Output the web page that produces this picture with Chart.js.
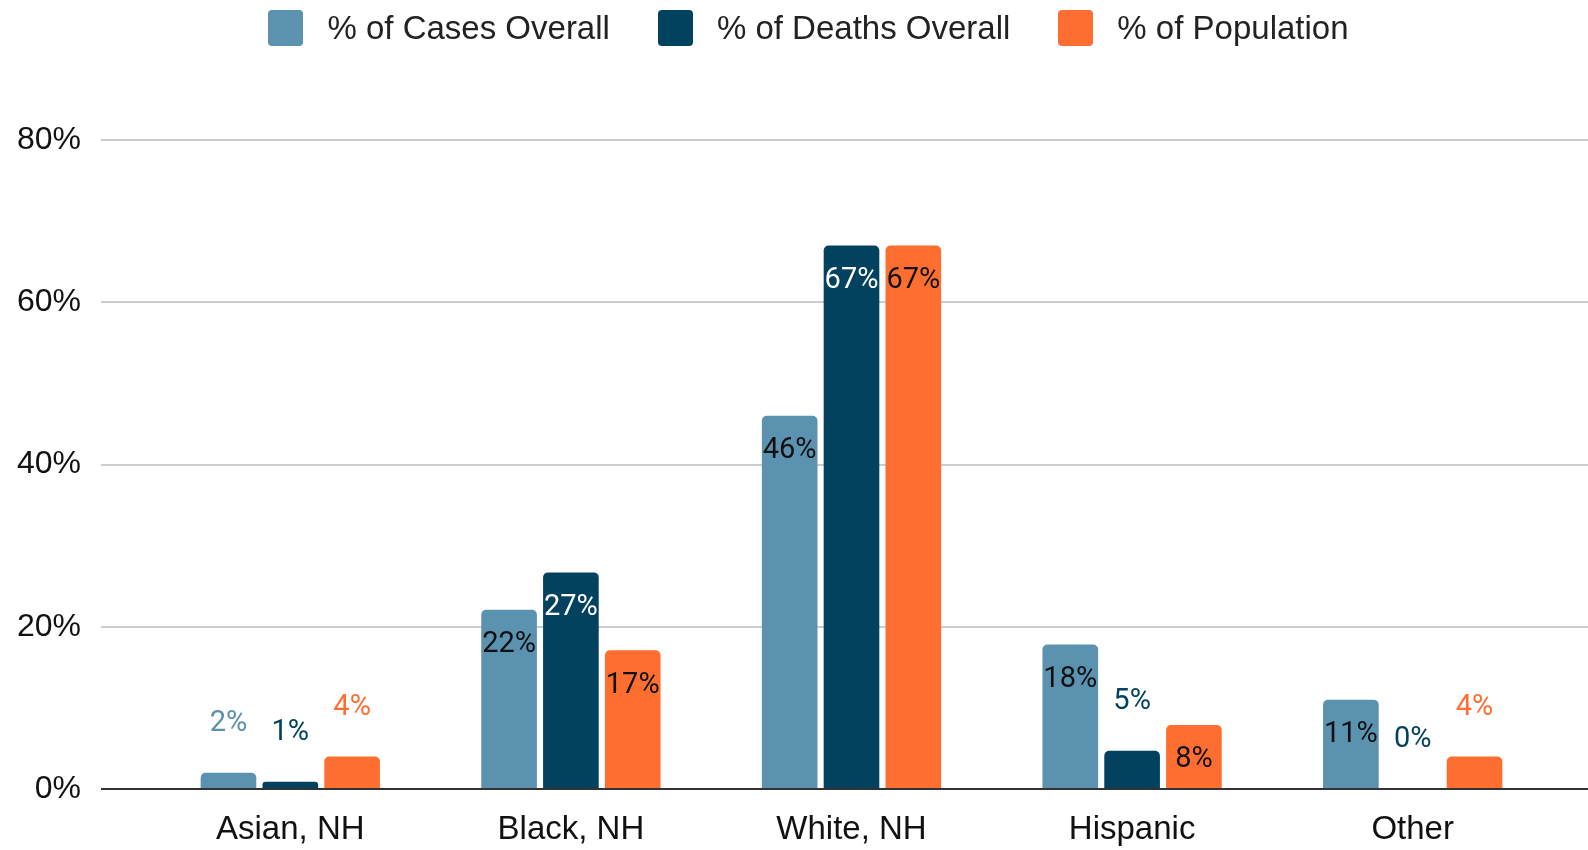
<!DOCTYPE html>
<html>
<head>
<meta charset="utf-8">
<script src="https://cdn.jsdelivr.net/npm/chart.js@4.4.1/dist/chart.umd.min.js"></script>
<style>
  html, body { margin: 0; padding: 0; background: #ffffff; }
  #wrap { position: relative; width: 1588px; height: 850px; }
  #legend {
    position: absolute; top: 10px; left: 0; right: 0;
    display: flex; justify-content: center; padding-left: 29px;
    font-family: "Liberation Sans", Arial, sans-serif; font-size: 33px;
    line-height: 36px; color: #222222;
  }
  .item { display: flex; align-items: center; margin: 0 24px; }
  .box { width: 35px; height: 36px; border-radius: 4px; margin-right: 24px; }
</style>
</head>
<body>
<div id="wrap">
  <div id="legend"></div>
  <canvas id="myChart"></canvas>
</div>
<script>
var categories = ["Asian, NH", "Black, NH", "White, NH", "Hispanic", "Other"];
var casesOverall = [2.0, 22.1, 46.0, 17.8, 11.0];
var deathsOverall = [0.9, 26.7, 67.0, 4.7, 0.0];
var population = [4.0, 17.1, 67.0, 7.9, 4.0];
var seriesNames = ["% of Cases Overall", "% of Deaths Overall", "% of Population"];
var seriesColors = ["#5b92b0", "#02425f", "#fe6e30"];
var insideLabelColors = ["#111111", "#ffffff", "#111111"];

// grey grid, dark line at 0%
function gridColor(c) {
  return c.tick && c.tick.value === 0 ? "#333333" : "#cccccc";
}

// value labels: inside the bar when it is tall enough, above it otherwise
var barLabels = {
  id: "barLabels",
  afterDatasetsDraw: function (chart) {
    var ctx = chart.ctx;
    ctx.save();
    ctx.font = "29px Roboto";
    ctx.textAlign = "center";
    ctx.textBaseline = "middle";
    chart.data.datasets.forEach(function (ds, i) {
      var meta = chart.getDatasetMeta(i);
      meta.data.forEach(function (bar, j) {
        var text = Math.round(ds.data[j]) + "%";
        var h = bar.base - bar.y;
        if (h > 55) {
          ctx.fillStyle = insideLabelColors[i];
          ctx.fillText(text, bar.x, bar.y + 35);
        } else {
          ctx.fillStyle = ds.backgroundColor;
          ctx.fillText(text, bar.x, bar.y - 49);
        }
      });
    });
    ctx.restore();
  },
};

var values = [casesOverall, deathsOverall, population];
var datasets = seriesNames.map(function (name, i) {
  return {
    label: name,
    data: values[i],
    backgroundColor: seriesColors[i],
    borderRadius: 5,
    borderSkipped: "start",
    categoryPercentage: 0.661,
    barPercentage: 0.9,
    yAxisID: "y",
  };
});

// legend as html
var legendEl = document.getElementById("legend");
seriesNames.forEach(function (name, i) {
  var item = document.createElement("div");
  item.className = "item";
  var box = document.createElement("span");
  box.className = "box";
  box.style.background = seriesColors[i];
  var txt = document.createElement("span");
  txt.textContent = name;
  item.appendChild(box);
  item.appendChild(txt);
  legendEl.appendChild(item);
});

var ctx = document.getElementById("myChart").getContext("2d");
var myChart = new Chart(ctx, {
  type: "bar",
  data: { labels: categories, datasets: datasets },
  plugins: [barLabels],
  options: {
    responsive: true,
    maintainAspectRatio: false,
    animation: false,
    layout: { padding: { top: 140, left: 0, right: 0, bottom: 0 } },
    plugins: {
      legend: { display: false },
      tooltip: { enabled: false },
    },
    scales: {
      x: {
        grid: { display: false, drawTicks: false },
        border: { display: false },
        ticks: {
          color: "#111111",
          padding: 21,
          font: { family: "'Liberation Sans', Arial, sans-serif", size: 33 },
        },
        afterFit: function (scale) { scale.height = 61; },
      },
      y: {
        position: "left",
        min: 0,
        max: 80,
        border: { display: false },
        grid: { color: gridColor, lineWidth: 2, tickLength: 49 },
        ticks: {
          stepSize: 20,
          color: "#111111",
          padding: 20,
          font: { family: "'Liberation Sans', Arial, sans-serif", size: 32 },
          callback: function (v) { return v + "%"; },
        },
        afterFit: function (scale) { scale.width = 150; },
      },
      y2: {
        position: "right",
        min: 0,
        max: 80,
        border: { display: false },
        grid: { color: gridColor, lineWidth: 2, tickLength: 35, drawOnChartArea: false },
        ticks: { display: false, stepSize: 20 },
      },
    },
  },
});
</script>
</body>
</html>
